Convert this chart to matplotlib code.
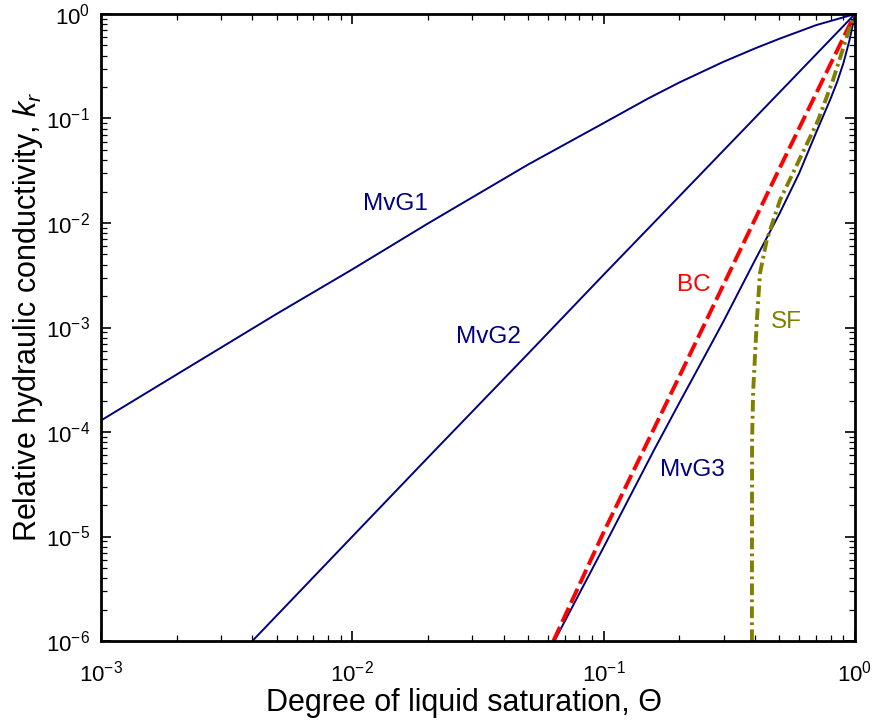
import numpy as np
import matplotlib
matplotlib.use('Agg')
import matplotlib.pyplot as plt

plt.rcParams['font.family'] = ['Liberation Sans', 'DejaVu Sans']
plt.rcParams['mathtext.fontset'] = 'custom'
plt.rcParams['mathtext.rm'] = 'Liberation Sans'
plt.rcParams['mathtext.it'] = 'Liberation Sans:italic'
plt.rcParams['mathtext.default'] = 'regular'
plt.rcParams['axes.unicode_minus'] = False

# Значення (Θ, k_r)
mvg1_theta = [0.001, 0.002, 0.005, 0.01, 0.02, 0.05, 0.1, 0.15, 0.2, 0.3, 0.4, 0.5, 0.6, 0.7, 0.8, 0.9, 1.0]
mvg1_kr = [1.29e-4, 3.55e-4, 1.35e-3, 3.6e-3, 9.9e-3, 3.62e-2, 9.04e-2, 0.155, 0.221, 0.349, 0.468,
           0.579, 0.681, 0.782, 0.857, 0.929, 1.0]

mvg2_theta = [0.004, 0.01, 0.02, 0.05, 0.1, 0.2, 0.5, 1.0]
mvg2_kr = [1.0e-6, 1.0e-5, 5.7e-5, 5.6e-4, 3.2e-3, 1.8e-2, 0.177, 1.0]

mvg3_theta = [0.0637, 0.1, 0.158, 0.2, 0.25, 0.3, 0.4, 0.5, 0.6, 0.7, 0.8, 0.85, 0.9, 0.95, 0.97, 1.0]
mvg3_kr = [1.0e-6, 7.9e-6, 6.6e-5, 1.9e-4, 5.1e-4, 1.15e-3, 4.4e-3, 1.22e-2, 3.0e-2, 7.3e-2, 0.155,
           0.225, 0.34, 0.556, 0.70, 1.0]

bc_theta = [0.0631, 0.1, 0.2, 0.5, 1.0]
bc_kr = [1.0e-6, 1.1e-5, 3.4e-4, 3.3e-2, 1.0]

sf_theta = [0.3890, 0.3892, 0.3895, 0.3936, 0.4064, 0.4188, 0.4325, 0.4457, 0.5035, 0.684, 0.714, 0.818, 0.946, 1.0]
sf_kr = [1.0e-6, 1.0e-5, 8.3e-5, 2.5e-4, 1.1e-3, 3.3e-3, 4.8e-3, 6.9e-3, 1.66e-2, 7.76e-2, 9.68e-2, 0.234, 0.70, 1.0]

x_major = [1e-3, 1e-2, 1e-1, 1e0]
y_major = [1e-6, 1e-5, 1e-4, 1e-3, 1e-2, 1e-1, 1e0]

navy = '#000080'
red = '#ff0000'
olive = '#808000'

fig = plt.figure(figsize=(8.76, 7.24), dpi=100)
ax = fig.add_axes([0.1153, 0.1146, 0.8607, 0.8661])

ax.plot(mvg1_theta, mvg1_kr, color=navy, lw=1.4)
ax.plot(mvg2_theta, mvg2_kr, color=navy, lw=1.4)
ax.plot(mvg3_theta, mvg3_kr, color=navy, lw=1.4)
ax.plot(bc_theta, bc_kr, color=red, lw=2.8, dashes=(4.0, 1.4))
ax.plot(sf_theta, sf_kr, color=olive, lw=2.8, dashes=(3.0, 1.1, 0.7, 1.1))

ax.set_xscale('log')
ax.set_yscale('log')
ax.set_xticks(x_major)
ax.set_yticks(y_major)
ax.set_xlim(1e-3, 1)
ax.set_ylim(1e-6, 1)

# Підписи кривих
ax.text(0.0149, 0.0152, 'MvG1', color=navy, fontsize=17.5, ha='center', va='center')
ax.text(0.0347, 8.1e-4, 'MvG2', color=navy, fontsize=17.5, ha='center', va='center')
ax.text(0.2249, 4.33e-5, 'MvG3', color=navy, fontsize=17.5, ha='center', va='center')
ax.text(0.229, 2.55e-3, 'BC', color=red, fontsize=17.5, ha='center', va='center')
ax.text(0.532, 1.13e-3, 'SF', color=olive, fontsize=17.5, ha='center', va='center')

ax.set_xlabel('Degree of liquid saturation, Θ', fontsize=22, va='center')
ax.set_ylabel(r'Relative hydraulic conductivity, $\mathit{k}_\mathit{r}$', fontsize=22, va='center')
ax.xaxis.set_label_coords(0.481, -0.099)
ax.yaxis.set_label_coords(-0.097, 0.517)

ax.tick_params(which='both', direction='in', top=True, right=True, labelsize=16)
ax.tick_params(which='major', length=7, width=1.2)
ax.tick_params(which='minor', length=4.5, width=0.9)
ax.tick_params(axis='x', which='major', pad=14)
ax.tick_params(axis='y', which='major', pad=8)
for s in ax.spines.values():
    s.set_linewidth(2)

fig.savefig('out.png', dpi=100)
